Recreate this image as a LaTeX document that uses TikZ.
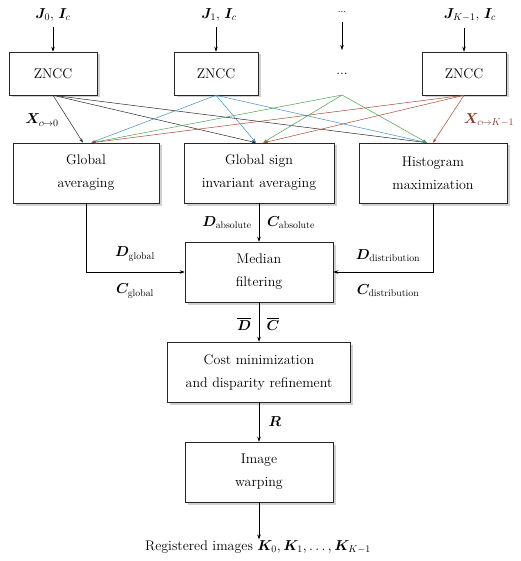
\documentclass[tikz,border=0pt]{standalone}
\usepackage{fontspec}
\usepackage{amsmath}
\usepackage{bm}
\usetikzlibrary{arrows.meta,shadows}
\definecolor{cblue}{RGB}{70,140,195}
\definecolor{cgreen}{RGB}{80,160,80}
\definecolor{cred}{RGB}{165,75,55}
\definecolor{cbrown}{RGB}{140,55,40}
\begin{document}
\begin{tikzpicture}[x=1pt,y=-1pt,
  box/.style={draw=black!85, line width=0.6pt, fill=white, align=center, inner sep=0pt,
    font=\fontsize{14}{23}\selectfont,
    drop shadow={shadow xshift=2.5pt,shadow yshift=-2.5pt,opacity=0.3,fill=black!60}},
  lbl/.style={font=\fontsize{14}{16}\selectfont, inner sep=1pt},
  arr/.style={-{Stealth[length=5pt,width=3.5pt]}, line width=0.5pt},
  xarr/.style={-{Stealth[length=4.5pt,width=3pt]}, line width=0.5pt}]
\useasboundingbox (0,0) rectangle (520,561);
% top labels
\node[lbl] (t0) at (53,15) {$\bm{J}_0$, $\bm{I}_c$};
\node[lbl] (t1) at (219,15) {$\bm{J}_1$, $\bm{I}_c$};
\node[lbl] (td) at (342,12) {\fontsize{10}{12}\selectfont ...};
\node[lbl] (t2) at (470,15) {$\bm{J}_{K-1}$, $\bm{I}_c$};
% ZNCC row
\node[box, minimum width=88pt, minimum height=43pt] (z0) at (53,73.5) {ZNCC};
\node[box, minimum width=84pt, minimum height=43pt] (z1) at (216,73.5) {ZNCC};
\node[lbl] (zd) at (342,74) {...};
\node[box, minimum width=84pt, minimum height=43pt] (z2) at (464,73.5) {ZNCC};
\coordinate (zdt) at (342,50);
\coordinate (zds) at (342,95);
\draw[arr] ([yshift=-5pt]t0.south -| z0.north) -- (z0.north);
\draw[arr] ([yshift=-5pt]t1.south -| z1.north) -- (z1.north);
\draw[arr] ([yshift=-8pt]td.south) -- (zdt);
\draw[arr] ([yshift=-5pt]t2.south -| z2.north) -- (z2.north);
% second row
\node[box, minimum width=146pt, minimum height=60pt] (g0) at (86,173) {Global\\averaging};
\node[box, minimum width=150pt, minimum height=60pt] (g1) at (259,173) {Global sign\\invariant averaging};
\node[box, minimum width=148pt, minimum height=60pt] (g2) at (433,173) {Histogram\\maximization};
% crossing connectors
\draw[xarr, black!85] (z0.south) -- ([xshift=-3pt]g0.north);
\draw[xarr, black!85] (z0.south) -- ([xshift=-3pt]g1.north);
\draw[xarr, black!85] (z0.south) -- ([xshift=-6pt]g2.north);
\draw[xarr, cblue] (z1.south) -- ([xshift=5pt]g0.north);
\draw[xarr, cblue] (z1.south) -- ([xshift=-3pt]g1.north);
\draw[xarr, cblue] (z1.south) -- ([xshift=-6pt]g2.north);
\draw[xarr, cgreen] (zds) -- ([xshift=6pt]g0.north);
\draw[xarr, cgreen] (zds) -- ([xshift=4pt]g1.north);
\draw[xarr, cgreen] (zds) -- ([xshift=-6pt]g2.north);
\draw[xarr, cred] (z2.south) -- ([xshift=6pt]g0.north);
\draw[xarr, cred] (z2.south) -- ([xshift=5pt]g1.north);
\draw[xarr, cred] (z2.south) -- ([xshift=0pt]g2.north);
\node[lbl] (xl0) at (42,120) {$\bm{X}_{c\mapsto 0}$};
\node[lbl, text=cbrown] (xlk) at (489,120) {$\bm{X}_{c\mapsto K-1}$};
% median
\node[box, minimum width=148pt, minimum height=60pt] (med) at (259,272) {Median\\filtering};
\draw[arr] (g0.south) |- (med.west);
\draw[arr] (g2.south) |- (med.east);
\draw[arr] (g1.south) -- (med.north);
\node[lbl] (dg) at (135,254) {$\bm{D}_{\text{global}}$};
\node[lbl] (cg) at (135,291) {$\bm{C}_{\text{global}}$};
\node[lbl] (da) at (227,223) {$\bm{D}_{\text{absolute}}$};
\node[lbl] (ca) at (291,223) {$\bm{C}_{\text{absolute}}$};
\node[lbl] (dd) at (388,256) {$\bm{D}_{\text{distribution}}$};
\node[lbl] (cd) at (388,291) {$\bm{C}_{\text{distribution}}$};
% cost
\node[box, minimum width=183pt, minimum height=60pt] (cost) at (259,372) {Cost minimization\\and disparity refinement};
\draw[arr] (med.south) -- (cost.north);
\node[lbl] (db) at (244,324) {$\overline{\bm{D}}$};
\node[lbl] (cb) at (273,324) {$\overline{\bm{C}}$};
% warp
\node[box, minimum width=148pt, minimum height=60pt] (warp) at (259,472) {Image\\warping};
\draw[arr] (cost.south) -- (warp.north);
\node[lbl] (rl) at (275,422) {$\bm{R}$};
% output
\node[lbl] (out) at (258,547) {Registered images $\bm{K}_0, \bm{K}_1, \ldots, \bm{K}_{K-1}$};
\draw[arr] (warp.south) -- (warp.south |- out.north);
\end{tikzpicture}
\end{document}
